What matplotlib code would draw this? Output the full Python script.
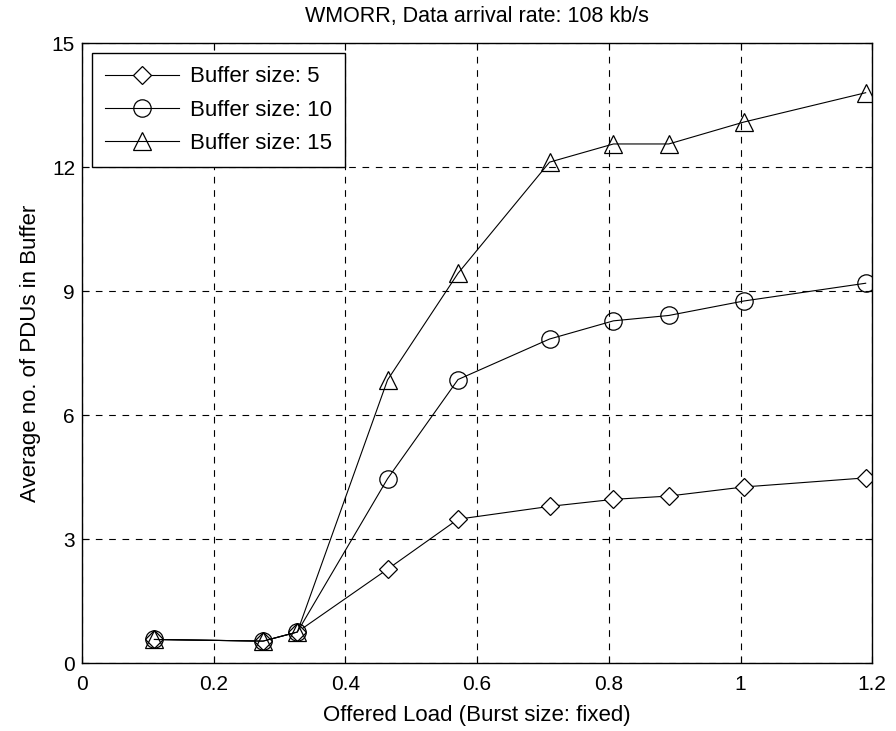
import numpy as np
import matplotlib.pyplot as plt

plt.rcParams['font.family'] = ['Liberation Sans', 'DejaVu Sans']

load = [0.11, 0.275, 0.327, 0.464, 0.571, 0.71, 0.807, 0.891, 1.005, 1.19]
buf5 = [0.57, 0.53, 0.75, 2.27, 3.48, 3.79, 3.96, 4.04, 4.26, 4.48]
buf10 = [0.57, 0.53, 0.75, 4.46, 6.86, 7.84, 8.28, 8.41, 8.76, 9.19]
buf15 = [0.57, 0.53, 0.75, 6.85, 9.43, 12.12, 12.56, 12.56, 13.09, 13.8]

fig = plt.figure(figsize=(8.96, 7.31), dpi=100)
ax = fig.add_axes([0.0915, 0.093, 0.882, 0.848])

ax.plot(load, buf5, color='black', lw=0.8, marker='D', ms=9, mfc='white', mec='black', mew=0.9,
        label='Buffer size: 5')
ax.plot(load, buf10, color='black', lw=0.8, marker='o', ms=12.5, mfc='none', mec='black', mew=0.9,
        label='Buffer size: 10')
ax.plot(load, buf15, color='black', lw=0.8, marker='^', ms=13, mfc='none', mec='black', mew=0.9,
        label='Buffer size: 15')

ax.set_xlim(0, 1.2)
ax.set_ylim(0, 15)
ax.set_xticks(np.arange(0, 1.21, 0.2))
ax.set_xticklabels(['0', '0.2', '0.4', '0.6', '0.8', '1', '1.2'])
ax.set_yticks(range(0, 16, 3))
ax.tick_params(direction='in', top=True, right=True, labelsize=15, length=5)
ax.tick_params(axis='x', pad=8.5)
ax.tick_params(axis='y', pad=5)
ax.grid(True, color='black', linestyle=(0, (6, 6)), linewidth=0.8)
for s in ax.spines.values():
    s.set_linewidth(1.0)

ax.set_title('WMORR, Data arrival rate: 108 kb/s', fontsize=15.5, pad=15)
ax.set_xlabel('Offered Load (Burst size: fixed)', fontsize=16, labelpad=8)
ax.set_ylabel('Average no. of PDUs in Buffer', fontsize=16, labelpad=8)

leg = ax.legend(loc='upper left', fontsize=16, fancybox=False, edgecolor='black',
                framealpha=1, handlelength=3.3, handletextpad=0.5, labelspacing=0.55,
                borderaxespad=0.45, borderpad=0.6)
leg.get_frame().set_linewidth(1.0)

plt.savefig('out.png', dpi=100)
